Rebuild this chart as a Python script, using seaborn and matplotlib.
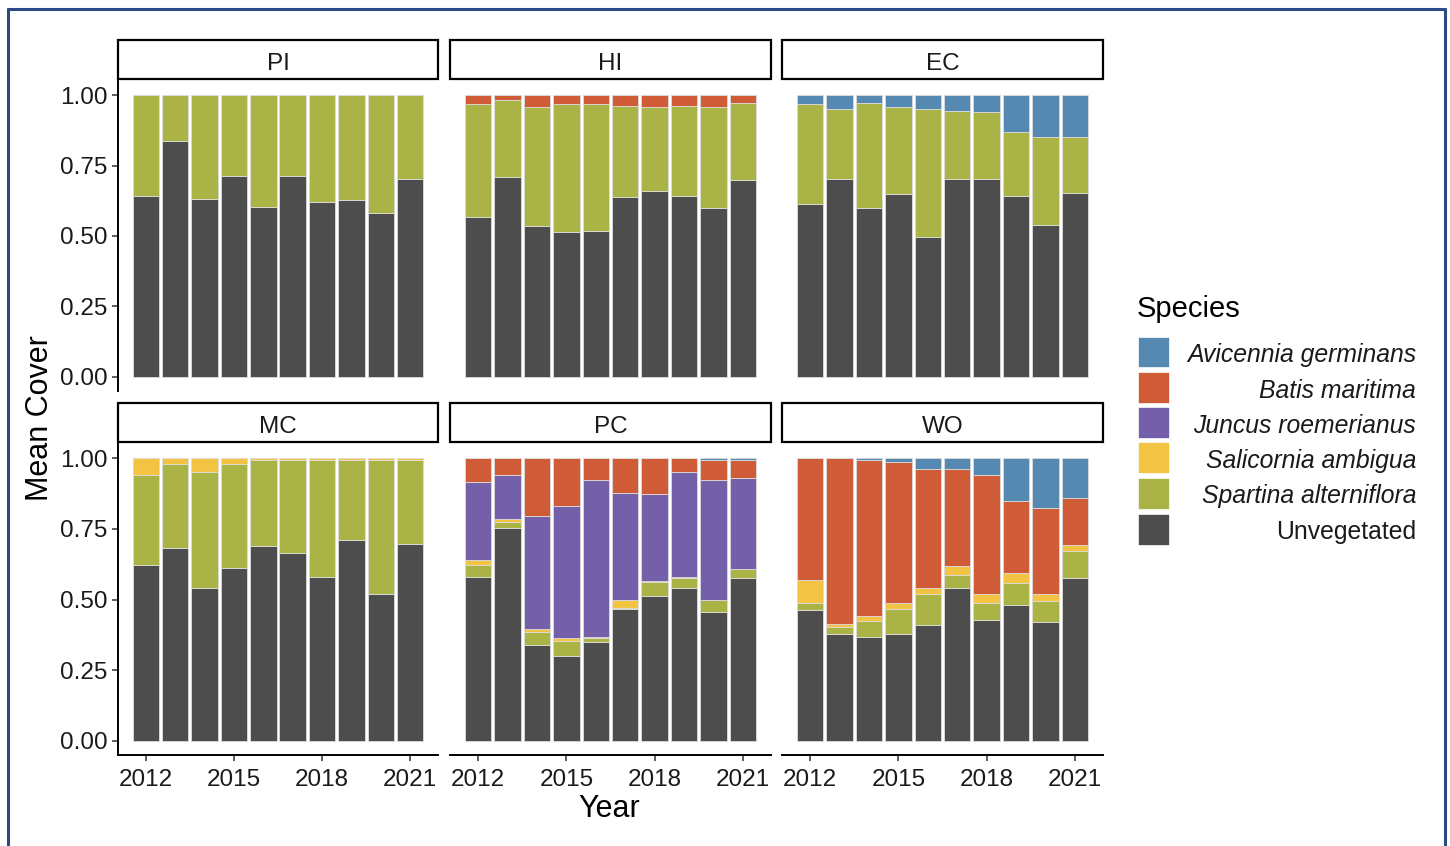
import matplotlib
matplotlib.use("Agg")
import matplotlib.pyplot as plt
import numpy as np
import pandas as pd
import seaborn as sns
from matplotlib.patches import Rectangle
from matplotlib.lines import Line2D

# ---- data -------------------------------------------------------------
years = list(range(2012, 2022))
sites = ["PI", "HI", "EC", "MC", "PC", "WO"]
species = ["Avicennia germinans", "Batis maritima", "Juncus roemerianus",
           "Salicornia ambigua", "Spartina alterniflora", "Unvegetated"]
colors = ["#5589B1", "#CF5C36", "#7460A8", "#F3C343", "#AAB446", "#4D4D4D"]
ytick_vals = [0.0, 0.25, 0.50, 0.75, 1.00]
ytick_labels = ["0.00", "0.25", "0.50", "0.75", "1.00"]
xtick_vals = [2012, 2015, 2018, 2021]

zeros = [0.0] * 10

pi_unveg = [0.642, 0.838, 0.632, 0.713, 0.603, 0.713, 0.622, 0.627, 0.583, 0.701]
pi_spartina = [0.358, 0.162, 0.368, 0.287, 0.397, 0.287, 0.378, 0.373, 0.417, 0.299]

hi_unveg = [0.568, 0.709, 0.536, 0.513, 0.518, 0.639, 0.660, 0.642, 0.600, 0.698]
hi_spartina = [0.400, 0.274, 0.421, 0.455, 0.450, 0.324, 0.297, 0.321, 0.357, 0.275]
hi_batis = [0.032, 0.017, 0.043, 0.032, 0.032, 0.037, 0.043, 0.037, 0.043, 0.027]

ec_unveg = [0.615, 0.701, 0.600, 0.649, 0.498, 0.701, 0.701, 0.642, 0.540, 0.653]
ec_spartina = [0.353, 0.250, 0.373, 0.308, 0.453, 0.244, 0.240, 0.228, 0.310, 0.197]
ec_avicennia = [0.032, 0.049, 0.027, 0.043, 0.049, 0.055, 0.059, 0.130, 0.150, 0.150]

mc_unveg = [0.622, 0.681, 0.541, 0.612, 0.688, 0.666, 0.580, 0.709, 0.521, 0.698]
mc_spartina = [0.320, 0.297, 0.410, 0.366, 0.306, 0.328, 0.414, 0.285, 0.473, 0.296]
mc_salicornia = [0.058, 0.022, 0.049, 0.022, 0.006, 0.006, 0.006, 0.006, 0.006, 0.006]

pc_unveg = [0.580, 0.752, 0.338, 0.299, 0.349, 0.466, 0.514, 0.541, 0.455, 0.575]
pc_spartina = [0.042, 0.022, 0.047, 0.055, 0.016, 0.003, 0.047, 0.035, 0.043, 0.032]
pc_salicornia = [0.017, 0.012, 0.011, 0.011, 0.004, 0.029, 0.004, 0.005, 0.001, 0.0]
pc_juncus = [0.276, 0.156, 0.398, 0.464, 0.555, 0.377, 0.307, 0.370, 0.425, 0.324]
pc_batis = [0.085, 0.058, 0.206, 0.171, 0.076, 0.125, 0.128, 0.049, 0.070, 0.063]
pc_avicennia = [0, 0, 0, 0, 0, 0, 0, 0, 0.006, 0.006]

wo_unveg = [0.462, 0.378, 0.366, 0.378, 0.409, 0.542, 0.429, 0.480, 0.420, 0.576]
wo_spartina = [0.027, 0.024, 0.058, 0.088, 0.112, 0.043, 0.060, 0.080, 0.074, 0.097]
wo_salicornia = [0.079, 0.011, 0.016, 0.023, 0.021, 0.034, 0.032, 0.035, 0.027, 0.020]
wo_batis = [0.432, 0.587, 0.554, 0.499, 0.420, 0.343, 0.421, 0.254, 0.301, 0.167]
wo_avicennia = [0, 0, 0.006, 0.012, 0.038, 0.038, 0.058, 0.151, 0.178, 0.140]

cover = {
    "PI": [zeros, zeros, zeros, zeros, pi_spartina, pi_unveg],
    "HI": [zeros, hi_batis, zeros, zeros, hi_spartina, hi_unveg],
    "EC": [ec_avicennia, zeros, zeros, zeros, ec_spartina, ec_unveg],
    "MC": [zeros, zeros, zeros, mc_salicornia, mc_spartina, mc_unveg],
    "PC": [pc_avicennia, pc_batis, pc_juncus, pc_salicornia, pc_spartina, pc_unveg],
    "WO": [wo_avicennia, wo_batis, zeros, wo_salicornia, wo_spartina, wo_unveg],
}

rows = []
for site in sites:
    for sp, vals in zip(species, cover[site]):
        for yr, v in zip(years, vals):
            if v > 0:
                rows.append({"Site": site, "Species": sp, "Year": yr, "Cover": v})
df = pd.DataFrame(rows)

# ---- styling ----------------------------------------------------------
sns.set_style("white")
plt.rcParams["font.family"] = ["Liberation Sans", "DejaVu Sans"]
text_col = "#1a1a1a"
tick_fs = 17.5

W, H = 1450, 846
fig = plt.figure(figsize=(W / 100, H / 100), dpi=100)


def px_rect(x0, y0, x1, y1):
    return [x0 / W, 1 - y1 / H, (x1 - x0) / W, (y1 - y0) / H]


col_x = [(118, 438), (450, 771), (782, 1103)]
row_y = [(81, 391), (444, 755)]
strip_h = 41

for i, site in enumerate(sites):
    r, c = divmod(i, 3)
    x0, x1 = col_x[c]
    y0, y1 = row_y[r]
    ax = fig.add_axes(px_rect(x0, y0, x1, y1))
    sub = df[df["Site"] == site]
    sns.histplot(data=sub, x="Year", weights="Cover", hue="Species",
                 hue_order=species, palette=colors, multiple="stack",
                 discrete=True, shrink=0.9, alpha=1, edgecolor="#dcdcdc",
                 linewidth=0.6, legend=False, ax=ax)
    ax.set_xlim(2011.05, 2021.95)
    ax.set_ylim(-0.05, 1.05)
    ax.set_xlabel("")
    ax.set_ylabel("")
    for s in ["top", "right"]:
        ax.spines[s].set_visible(False)
    ax.spines["left"].set_visible(c == 0)
    ax.spines["bottom"].set_visible(r == 1)
    for s in ["left", "bottom"]:
        ax.spines[s].set_linewidth(1.4)
        ax.spines[s].set_color("black")
    ax.set_yticks(ytick_vals)
    ax.set_xticks(xtick_vals)
    ax.tick_params(axis="y", left=(c == 0), labelleft=(c == 0), length=4.5,
                   width=1.1, color="#333333", labelsize=tick_fs,
                   labelcolor=text_col, pad=3)
    ax.tick_params(axis="x", bottom=(r == 1), labelbottom=(r == 1), length=4.5,
                   width=1.1, color="#333333", labelsize=tick_fs,
                   labelcolor=text_col, pad=5.5)
    if c == 0:
        ax.set_yticklabels(ytick_labels)
    ax.patch.set_alpha(0)

    # facet strip
    hpx = y1 - y0
    ax.add_patch(Rectangle((0, 1 + 2 / hpx), 1, (strip_h - 2) / hpx,
                           transform=ax.transAxes, facecolor="white",
                           edgecolor="black", linewidth=1.6, clip_on=False))
    ax.text(0.5, 1 + (strip_h / 2 - 0.5) / hpx, site, transform=ax.transAxes,
            ha="center", va="center_baseline", fontsize=tick_fs, color=text_col)

# axis titles
fig.text(609 / W, 1 - 809 / H, "Year", ha="center", va="center",
         fontsize=22, color="black")
fig.text(40 / W, 1 - 418 / H, "Mean Cover", ha="center", va="center",
         rotation=90, fontsize=22, color="black")

# legend
fig.text(1137 / W, 1 - 309 / H, "Species", ha="left", va="center",
         fontsize=21, color="black")
key_y = [352.5, 388, 423.5, 458.5, 494, 529.5]
for sp, colr, yc in zip(species, colors, key_y):
    fig.add_artist(Rectangle((1138 / W, 1 - (yc + 16) / H), 32 / W, 32 / H,
                             transform=fig.transFigure, facecolor=colr,
                             edgecolor="white", linewidth=1.2))
    fig.text(1416 / W, 1 - yc / H, sp, ha="right", va="center_baseline",
             fontsize=17.8, color=text_col,
             style=("normal" if sp == "Unvegetated" else "italic"))

# outer frame
frame_col = "#2C4A85"
fig.add_artist(Line2D([8 / W, 8 / W], [0, 1 - 9 / H], transform=fig.transFigure,
                      color=frame_col, linewidth=2.2))
fig.add_artist(Line2D([1444.5 / W, 1444.5 / W], [0, 1 - 9 / H],
                      transform=fig.transFigure, color=frame_col, linewidth=2.2))
fig.add_artist(Line2D([8 / W, 1444.5 / W], [1 - 9 / H, 1 - 9 / H],
                      transform=fig.transFigure, color=frame_col, linewidth=2.2))

fig.savefig("out.png", dpi=100, facecolor="white")
